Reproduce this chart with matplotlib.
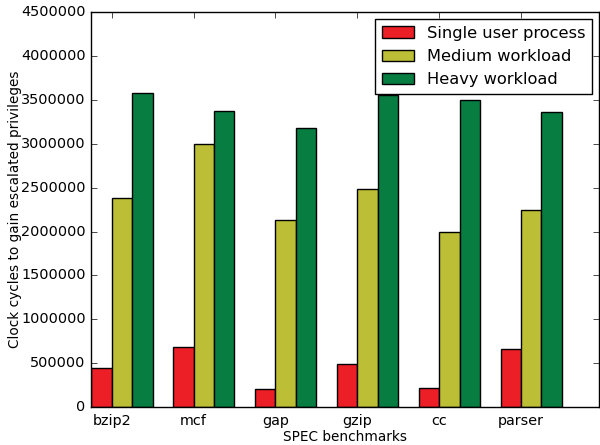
import numpy as np
import matplotlib
matplotlib.use('Agg')
import matplotlib.pyplot as plt

plt.style.use('classic')

benchmarks = ['bzip2', 'mcf', 'gap', 'gzip', 'cc', 'parser']
single = [450000, 680000, 210000, 490000, 220000, 660000]
medium = [2380000, 3000000, 2130000, 2480000, 1990000, 2250000]
heavy = [3580000, 3370000, 3180000, 3550000, 3500000, 3360000]

ind = np.arange(len(benchmarks))
width = 0.25

fig = plt.figure(figsize=(6, 4.45), dpi=100, facecolor='white')
ax = fig.add_axes([0.152, 0.085, 0.846, 0.888])

ax.bar(ind, single, width, color='#ed1f26', edgecolor='black', align='edge', label='Single user process')
ax.bar(ind + width, medium, width, color='#bcbe35', edgecolor='black', align='edge', label='Medium workload')
ax.bar(ind + 2 * width, heavy, width, color='#077d41', edgecolor='black', align='edge', label='Heavy workload')

ax.set_xlim(0, 6.2)
ax.set_ylim(0, 4500000)
ax.set_yticks(np.arange(0, 4500001, 500000))
ax.yaxis.set_major_formatter(matplotlib.ticker.FormatStrFormatter('%d'))
ax.set_xticks(ind + width)
ax.set_xticklabels(benchmarks)
ax.tick_params(labelsize=10.4)
ax.tick_params(axis='x', pad=5)

ax.set_xlabel('SPEC benchmarks', fontsize=9.8, labelpad=1)
ax.set_ylabel('Clock cycles to gain escalated privileges', fontsize=9.8)
ax.yaxis.set_label_coords(-0.136, 0.5)
ax.legend(loc='upper right', fontsize=11.7, borderaxespad=0,
          bbox_to_anchor=(592 / 600, 1 - 19.3 / 445), bbox_transform=fig.transFigure)

fig.savefig('out.png', dpi=100, facecolor='white')
